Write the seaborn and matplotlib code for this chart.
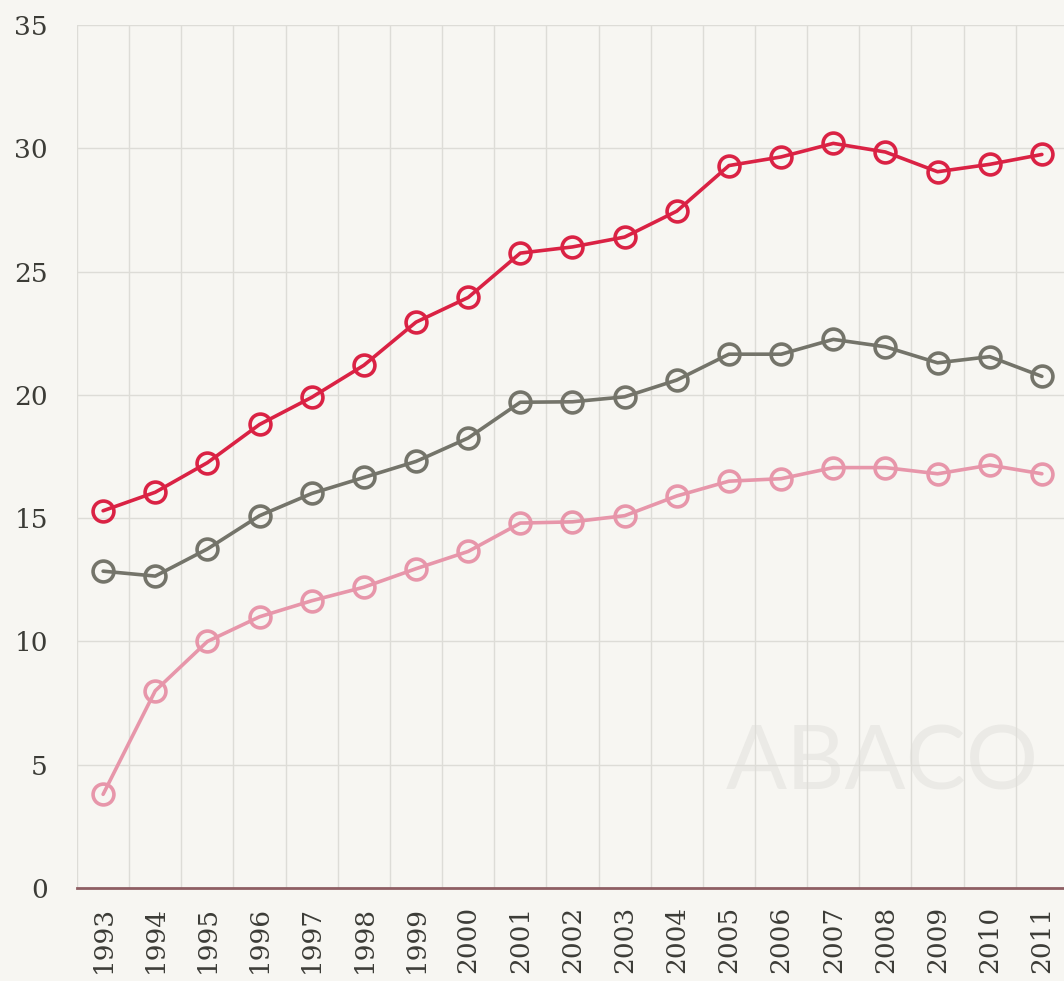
import matplotlib
matplotlib.use("Agg")
import matplotlib.pyplot as plt
import seaborn as sns

sns.set_style("white")
plt.rcParams['font.family'] = ['DejaVu Serif']

years = list(range(1993, 2012))
red_vals = [15.3, 16.05, 17.25, 18.8, 19.9, 21.2, 22.95, 23.95, 25.75, 26.0,
            26.4, 27.45, 29.3, 29.65, 30.2, 29.85, 29.05, 29.35, 29.75]
gray_vals = [12.85, 12.65, 13.75, 15.1, 16.0, 16.65, 17.3, 18.25, 19.7, 19.72,
             19.92, 20.6, 21.65, 21.65, 22.25, 21.95, 21.3, 21.55, 20.75]
pink_vals = [3.8, 8.0, 10.0, 11.0, 11.65, 12.2, 12.95, 13.65, 14.8, 14.85,
             15.1, 15.9, 16.5, 16.6, 17.05, 17.05, 16.8, 17.15, 16.8]
series_colors = ['#DA2244', '#74746A', '#E796AA']
y_ticks = [0, 5, 10, 15, 20, 25, 30, 35]

bg = '#F7F6F2'
fig = plt.figure(figsize=(10.64, 9.81), dpi=100, facecolor=bg)
ax = fig.add_axes([0.0724, 0.0948, 0.9313, 0.8797])
ax.set_facecolor(bg)

# watermark
ax.text(2007.95, 5.0, 'ABACO', fontsize=65, color='#EBEAE6', family='Lato',
        fontweight='normal', ha='center', va='center', zorder=0)

for vals, col in zip([red_vals, gray_vals, pink_vals], series_colors):
    sns.lineplot(x=years, y=vals, ax=ax, color=col, linewidth=2.6,
                 marker='o', markersize=15, markerfacecolor='none',
                 markeredgecolor=col, markeredgewidth=2.6, zorder=3)

ax.set_xlim(1992.5, 2011.5)
ax.set_ylim(0, 35)
ax.set_yticks(y_ticks)
ax.set_xticks(years)
ax.set_xticklabels([str(y) for y in years], rotation=90)

# grid: horizontal at ticks, vertical between years
for y in y_ticks[1:]:
    ax.axhline(y, color='#DDDCD7', linewidth=1, zorder=1)
for x in range(1993, 2012):
    ax.axvline(x - 0.5, color='#DDDCD7', linewidth=1, zorder=1)

for s in ['top', 'right', 'left']:
    ax.spines[s].set_visible(False)
ax.spines['bottom'].set_color('#8E5E63')
ax.spines['bottom'].set_linewidth(2)

ax.tick_params(axis='both', length=0, labelsize=19, labelcolor='#3C3C37')
ax.tick_params(axis='y', pad=21)
ax.tick_params(axis='x', pad=13)
ax.set_xlabel('')
ax.set_ylabel('')

fig.savefig('out.png', dpi=100, facecolor=bg)
